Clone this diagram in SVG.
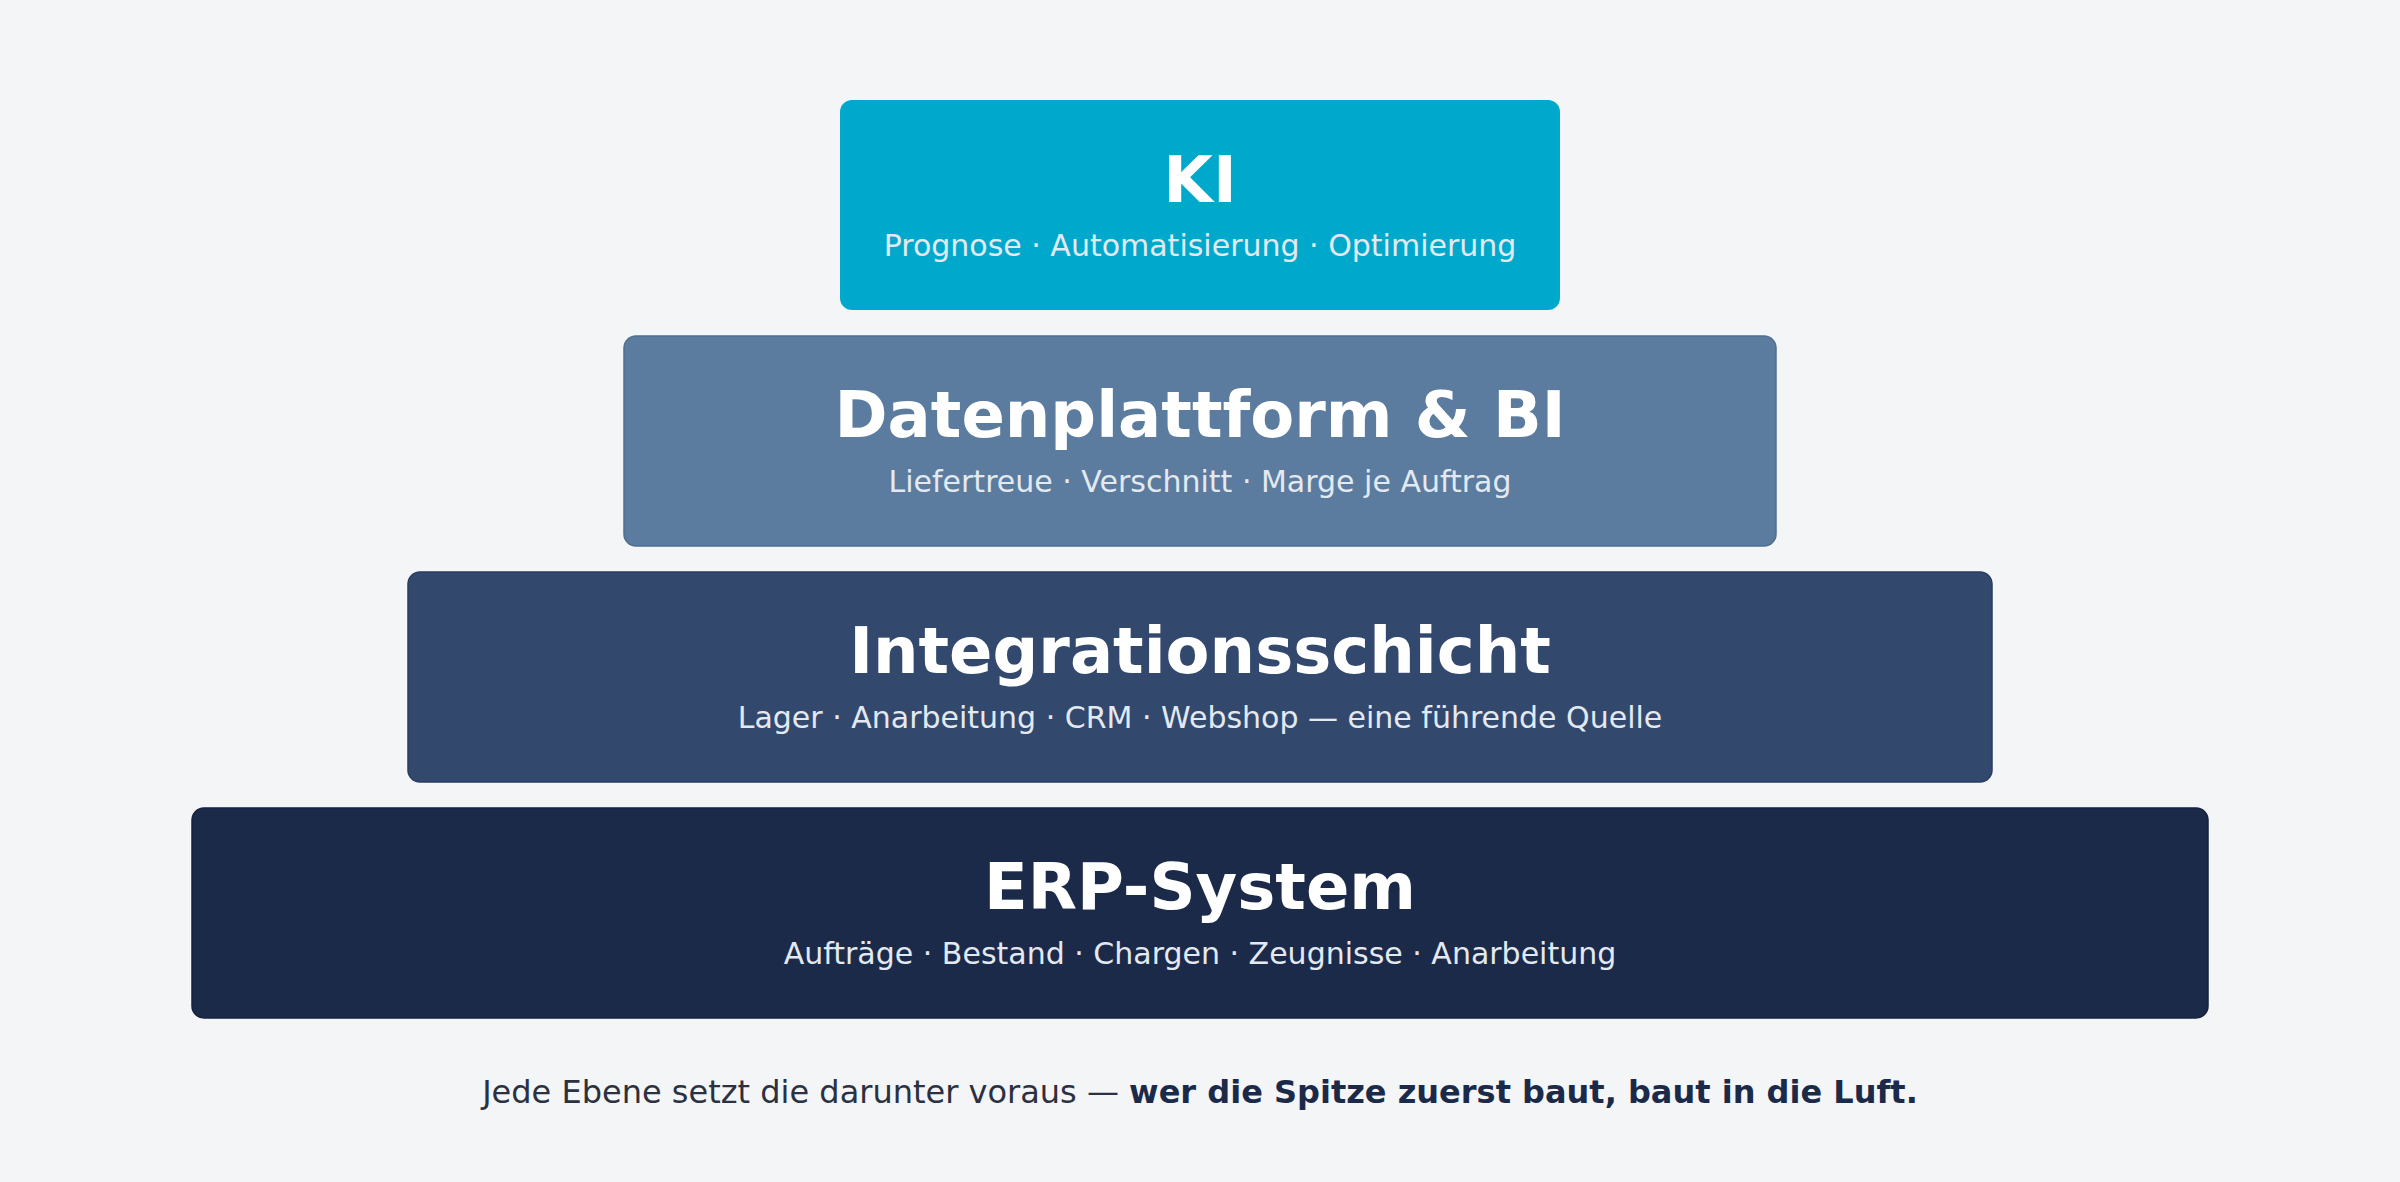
<svg xmlns="http://www.w3.org/2000/svg" width="2400" height="1182" viewBox="0 0 2400 1182">
<style>
.t{font-family:"DejaVu Sans","Liberation Sans",sans-serif;font-weight:bold;font-size:64px;fill:#ffffff;text-anchor:middle}
.s{font-family:"DejaVu Sans","Liberation Sans",sans-serif;font-size:30px;fill:#e3e9f1;text-anchor:middle}
.f{font-family:"DejaVu Sans","Liberation Sans",sans-serif;font-size:32px;fill:#2b3140;text-anchor:middle}
</style>
<rect width="2400" height="1182" fill="#f4f5f7"/>
<g id="ki">
<rect x="840" y="100" width="720" height="210" rx="12" fill="#00a9cc"/>
<text class="t" x="1200" y="202">KI</text>
<text class="s" x="1200" y="256">Prognose · Automatisierung · Optimierung</text>
</g>
<g id="datenplattform">
<rect x="624" y="336" width="1152" height="210" rx="12" fill="#5b7c9e" stroke="#4f6f90" stroke-width="1.5"/>
<text class="t" x="1200" y="437">Datenplattform &amp; BI</text>
<text class="s" x="1200" y="492">Liefertreue · Verschnitt · Marge je Auftrag</text>
</g>
<g id="integration">
<rect x="408" y="572" width="1584" height="210" rx="12" fill="#33486d" stroke="#2a3d60" stroke-width="1.5"/>
<text class="t" x="1200" y="673">Integrationsschicht</text>
<text class="s" x="1200" y="728">Lager · Anarbeitung · CRM · Webshop — eine führende Quelle</text>
</g>
<g id="erp">
<rect x="192" y="808" width="2016" height="210" rx="12" fill="#1c2a4a" stroke="#17223e" stroke-width="1.5"/>
<text class="t" x="1200" y="909">ERP-System</text>
<text class="s" x="1200" y="964">Aufträge · Bestand · Chargen · Zeugnisse · Anarbeitung</text>
</g>
<g id="connectors"/>
<text class="f" x="1200" y="1103">Jede Ebene setzt die darunter voraus — <tspan font-weight="bold" fill="#1c2a4a">wer die Spitze zuerst baut, baut in die Luft.</tspan></text>
</svg>
